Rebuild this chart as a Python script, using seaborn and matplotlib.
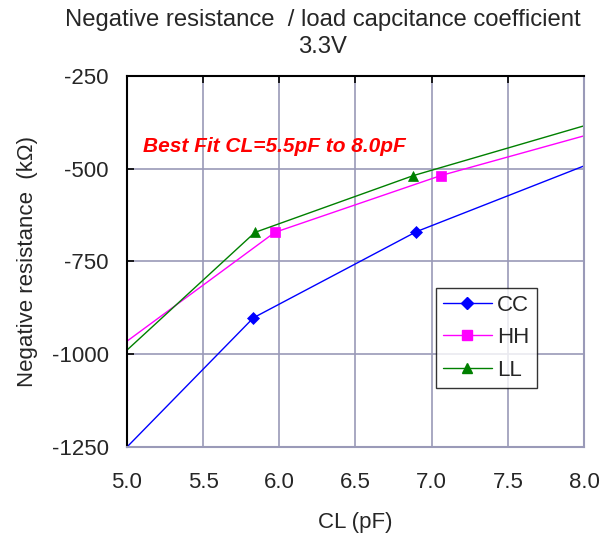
import matplotlib
matplotlib.use("Agg")
import matplotlib.pyplot as plt
from matplotlib.lines import Line2D
import seaborn as sns
import pandas as pd

# values (first/last points are the line extensions)
cl_cc = [5.00, 5.83, 6.90, 8.00]
neg_cc = [-1250, -902, -670, -493]
cl_hh = [5.00, 5.97, 7.06, 8.00]
neg_hh = [-965, -672, -519, -412]
cl_ll = [5.00, 5.84, 6.88, 8.00]
neg_ll = [-989, -672, -519, -385]

series_names = ["CC", "HH", "LL"]
colors = {"CC": "#0000ff", "HH": "#ff00ff", "LL": "#008000"}
markers = {"CC": "D", "HH": "s", "LL": "^"}
msizes = {"CC": 6, "HH": 7.5, "LL": 7.5}

x_ticks = [5.0, 5.5, 6.0, 6.5, 7.0, 7.5, 8.0]
y_ticks = [-1250, -1000, -750, -500, -250]

df = pd.concat([
    pd.DataFrame({"CL": cl_cc, "R": neg_cc, "series": "CC"}),
    pd.DataFrame({"CL": cl_hh, "R": neg_hh, "series": "HH"}),
    pd.DataFrame({"CL": cl_ll, "R": neg_ll, "series": "LL"}),
])

sns.set_style("white")
plt.rcParams["font.family"] = ["Liberation Sans", "DejaVu Sans"]

fig = plt.figure(figsize=(6.0, 5.38), dpi=100)
ax = fig.add_axes([127 / 600, 1 - 447 / 538, (584 - 127) / 600, (447 - 75.7) / 538])

grid_col = "#9a9ab8"
for name in series_names:
    d = df[df["series"] == name]
    sns.lineplot(data=d, x="CL", y="R", ax=ax, color=colors[name], linewidth=1.0,
                 marker=markers[name], markersize=msizes[name],
                 markevery=[1, 2], markeredgewidth=0.5,
                 markeredgecolor=colors[name], legend=False)

fs = 16
ax.set_xlim(5.0, 8.0)
ax.set_ylim(-1250, -250)
ax.set_xticks(x_ticks)
ax.set_xticklabels([f"{v:.1f}" for v in x_ticks], fontsize=fs)
ax.set_yticks(y_ticks)
ax.set_yticklabels([str(v) for v in y_ticks], fontsize=fs)
ax.grid(True, color=grid_col, linewidth=1.2)
ax.tick_params(axis="both", direction="in", length=5, width=1.2, color="black")
ax.tick_params(axis="x", top=True, bottom=False, pad=18)
ax.tick_params(axis="y", left=True, pad=13)

ax.spines["left"].set_color("black")
ax.spines["top"].set_color("black")
ax.spines["left"].set_linewidth(1.5)
ax.spines["top"].set_linewidth(1.5)
ax.spines["right"].set_color(grid_col)
ax.spines["bottom"].set_color(grid_col)
ax.spines["right"].set_linewidth(1.5)
ax.spines["bottom"].set_linewidth(1.5)

ax.set_xlabel("CL (pF)", fontsize=fs, labelpad=14)
ax.set_ylabel("Negative resistance  (k\u03a9)", fontsize=fs, labelpad=10)

fig.text(0.538, 1 - 26 / 538, "Negative resistance  / load capcitance coefficient",
         ha="center", va="baseline", fontsize=17.2)
fig.text(0.538, 1 - 53 / 538, "3.3V", ha="center", va="baseline", fontsize=17.2)

ax.text(5.105, -442, "Best Fit CL=5.5pF to 8.0pF", color="#ff0000",
        fontsize=15, fontweight="bold", fontstyle="italic", va="center", ha="left")

handles = [Line2D([], [], color=colors[n], linewidth=1.0, marker=markers[n],
                  markersize=msizes[n], markeredgecolor=colors[n]) for n in series_names]
leg = ax.legend(handles, series_names, loc="upper left",
                bbox_to_anchor=((435.7 - 127) / 457, (447 - 287.5) / 371.3),
                fontsize=fs, frameon=True, fancybox=False, edgecolor="black",
                handlelength=2.2, borderpad=0.32, labelspacing=0.52, handletextpad=0.25,
                borderaxespad=0)
leg.get_frame().set_linewidth(1.0)

fig.savefig("out.png", dpi=100)
